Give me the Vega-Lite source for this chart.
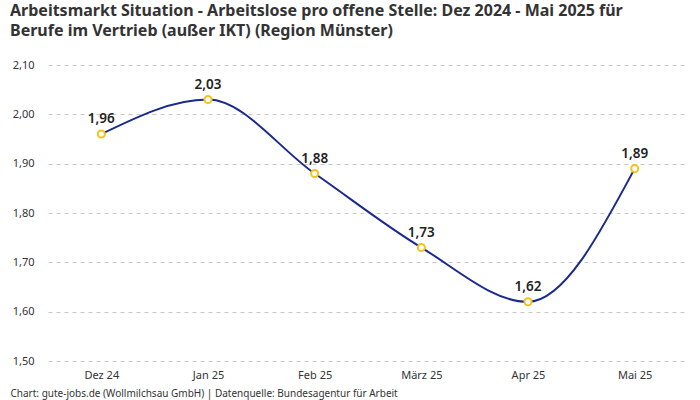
{
  "$schema": "https://vega.github.io/schema/vega-lite/v6.json",
  "width": 700,
  "height": 400,
  "autosize": {"type": "fit", "contains": "padding"},
  "padding": {"left": 10, "right": 12, "top": 3, "bottom": 2},
  "background": "white",
  "title": {
    "text": ["Arbeitsmarkt Situation - Arbeitslose pro offene Stelle: Dez 2024 - Mai 2025 für", "Berufe im Vertrieb (außer IKT) (Region Münster)"],
    "anchor": "start",
    "frame": "bounds",
    "fontSize": 16,
    "fontWeight": "bold",
    "color": "#333333",
    "font": "Noto Sans",
    "lineHeight": 20,
    "offset": 20
  },
  "data": {
    "values": [
      {"monat": "Dez 24", "wert": 1.96},
      {"monat": "Jan 25", "wert": 2.03},
      {"monat": "Feb 25", "wert": 1.88},
      {"monat": "März 25", "wert": 1.73},
      {"monat": "Apr 25", "wert": 1.62},
      {"monat": "Mai 25", "wert": 1.89}
    ]
  },
  "encoding": {
    "x": {
      "field": "monat",
      "type": "ordinal",
      "sort": null,
      "scale": {"type": "point", "padding": 0.5},
      "axis": {
        "title": "Chart: gute-jobs.de (Wollmilchsau GmbH) | Datenquelle: Bundesagentur für Arbeit",
        "titleAnchor": "start",
        "titleAlign": "left",
        "titleX": -38,
        "titleFontSize": 10,
        "titleFontWeight": "normal",
        "titleColor": "#333333",
        "titleFont": "Noto Sans",
        "titlePadding": 8,
        "labelAngle": 0,
        "labelFontSize": 11,
        "labelColor": "#333333",
        "labelFont": "Noto Sans",
        "labelPadding": 8,
        "domain": false,
        "ticks": false,
        "grid": false
      }
    },
    "y": {
      "field": "wert",
      "type": "quantitative",
      "scale": {"domain": [1.5, 2.1], "nice": false, "zero": false},
      "axis": {
        "title": null,
        "values": [1.5, 1.6, 1.7, 1.8, 1.9, 2.0, 2.1],
        "format": ".2f",
        "labelFontSize": 11,
        "labelColor": "#333333",
        "labelFont": "Noto Sans",
        "labelPadding": 14,
        "domain": false,
        "ticks": false,
        "grid": true,
        "gridDash": [4, 4],
        "gridColor": "#c8c8c8",
        "gridWidth": 1
      }
    }
  },
  "layer": [
    {
      "mark": {"type": "line", "interpolate": "monotone", "color": "#1a2a8c", "strokeWidth": 2}
    },
    {
      "mark": {"type": "point", "shape": "circle", "filled": true, "fill": "white", "stroke": "#f5c21b", "strokeWidth": 2, "size": 50, "opacity": 1}
    },
    {
      "mark": {"type": "text", "dy": -15, "fontSize": 13.5, "fontWeight": 600, "color": "#222222", "font": "Noto Sans"},
      "encoding": {"text": {"field": "wert", "type": "quantitative", "format": ".2f"}}
    }
  ],
  "config": {
    "view": {"stroke": null},
    "locale": {
      "number": {"decimal": ",", "thousands": ".", "grouping": [3], "currency": ["", " €"]}
    }
  }
}
